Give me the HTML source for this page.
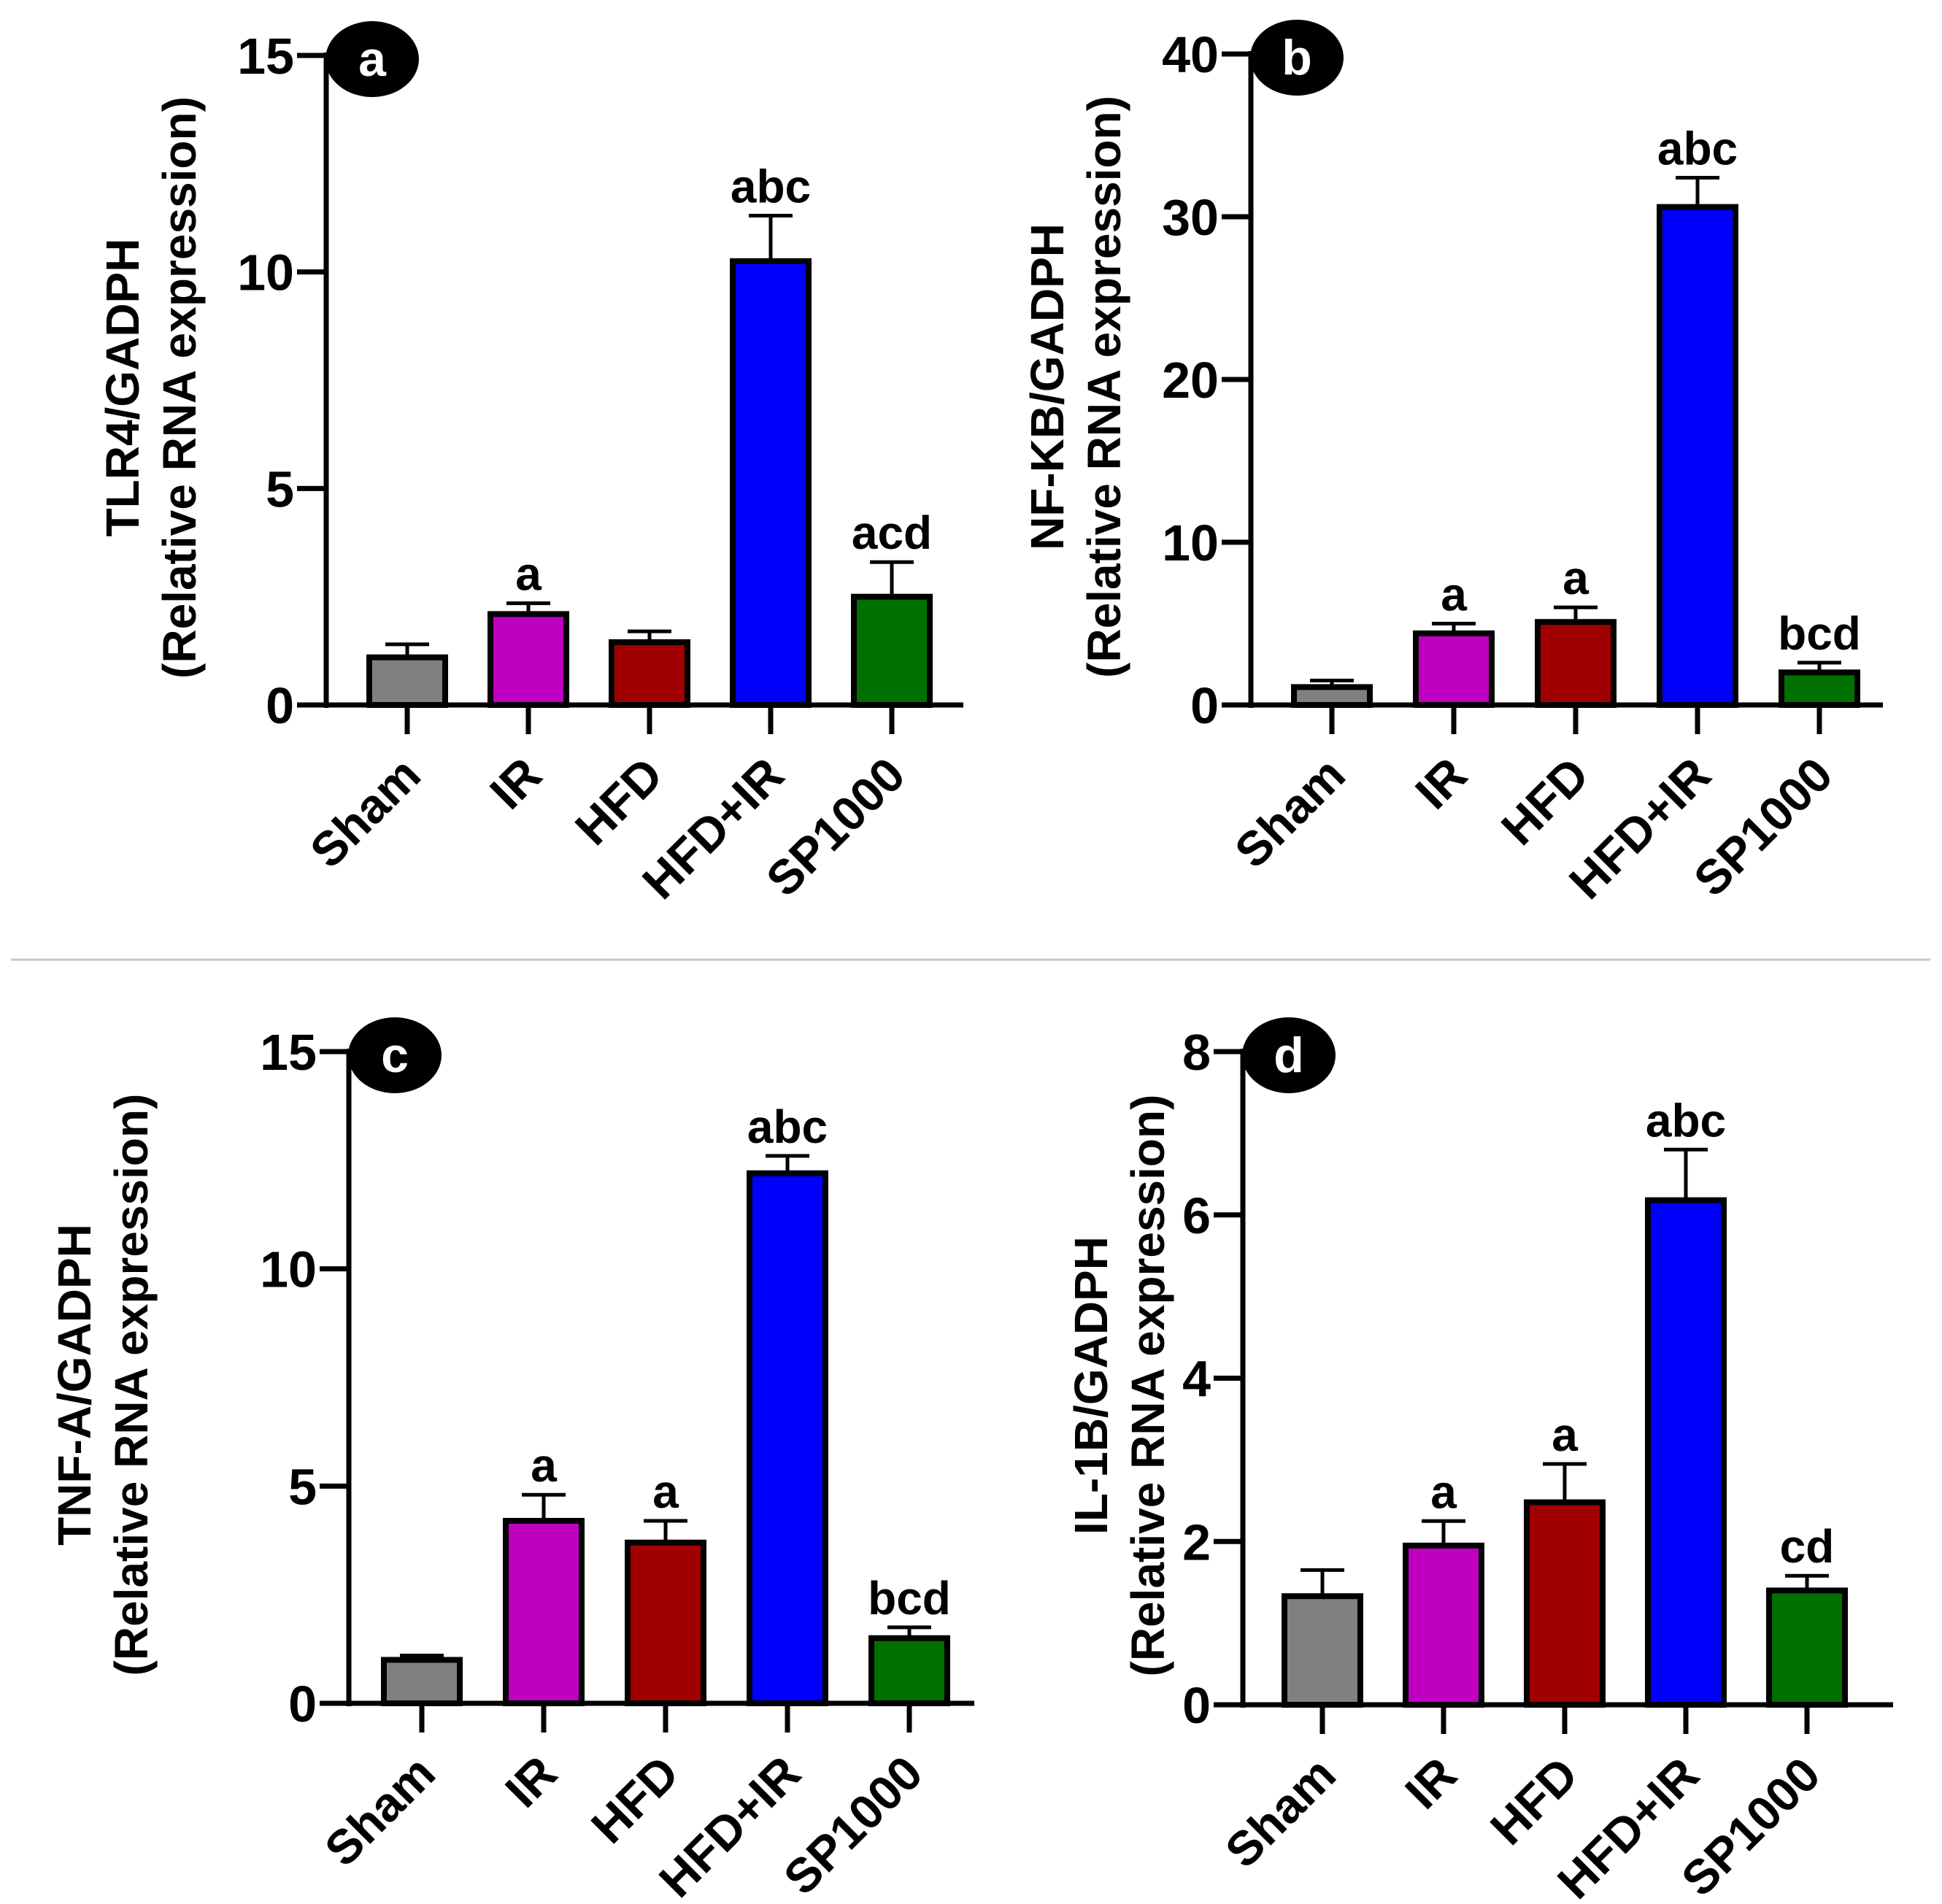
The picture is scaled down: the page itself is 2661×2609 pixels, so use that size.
<!DOCTYPE html>
<html><head><meta charset="utf-8"><style>
html,body{margin:0;padding:0;background:#fff}
svg{display:block}
text{font-family:"Liberation Sans",Arial,sans-serif;font-weight:bold}
</style></head><body>
<svg id="chart" width="2661" height="2609" viewBox="0 0 2661 2609" xmlns="http://www.w3.org/2000/svg">
<line x1="15" y1="1315" x2="2645" y2="1315" stroke="#c8c8c8" stroke-width="3"/>
</svg>
<script>
const categories = ["Sham","IR","HFD","HFD+IR","SP1000"];
const colors = ["#808080","#c000c0","#a00000","#0000ff","#007000"];
const valuesA = [1.1, 2.1, 1.45, 10.25, 2.5];
const errorsA = [0.3, 0.25, 0.25, 1.05, 0.8];
const lettersA = ["", "a", "", "abc", "acd"];
const ticksA = [0, 5, 10, 15];
const valuesB = [1.1, 4.4, 5.1, 30.6, 2.0];
const errorsB = [0.4, 0.6, 0.9, 1.8, 0.6];
const lettersB = ["", "a", "a", "abc", "bcd"];
const ticksB = [0, 10, 20, 30, 40];
const valuesC = [1.0, 4.2, 3.7, 12.2, 1.5];
const errorsC = [0.1, 0.6, 0.5, 0.4, 0.25];
const lettersC = ["", "a", "a", "abc", "bcd"];
const ticksC = [0, 5, 10, 15];
const valuesD = [1.33, 1.95, 2.48, 6.18, 1.4];
const errorsD = [0.32, 0.3, 0.47, 0.62, 0.18];
const lettersD = ["", "a", "a", "abc", "cd"];
const ticksD = [0, 2, 4, 6, 8];

const NS = "http://www.w3.org/2000/svg";
const svg = document.getElementById("chart");
function mk(tag, attrs, parent, txt){
  const e = document.createElementNS(NS, tag);
  for (const k in attrs) e.setAttribute(k, attrs[k]);
  if (txt !== undefined) e.textContent = txt;
  (parent || svg).appendChild(e);
  return e;
}
function panel(cfg){
  const g = mk("g", {});
  
  
  const ymax = cfg.ticks[cfg.ticks.length-1];
  const y = v => cfg.y0 - (v / ymax) * (cfg.y0 - cfg.yTop);
  const x = i => cfg.x0 + cfg.first + i * cfg.step;
  const bw = 104;
  cfg.values.forEach((v, i) => {
    const top = y(v + cfg.errors[i]);
    const el = mk("line", {x1: x(i), x2: x(i), y1: y(v), y2: top, stroke: "#000", "stroke-width": 5}, g);
    
    
    const cap = mk("line", {x1: x(i) - 30, x2: x(i) + 30, y1: top, y2: top, stroke: "#000", "stroke-width": 5}, g);
    
    
    const r = mk("rect", {x: x(i) - bw/2, y: y(v), width: bw, height: cfg.y0 - y(v), fill: colors[i], stroke: "#000", "stroke-width": 8}, g);
    
    
    if (cfg.letters[i]) {
      const t = mk("text", {x: x(i), y: top - 18, "text-anchor": "middle", "font-size": 64}, g, cfg.letters[i]);
      
      
    }
    const tk = mk("line", {x1: x(i), x2: x(i), y1: cfg.y0, y2: cfg.y0 + 40, stroke: "#000", "stroke-width": 7}, g);
    
    
    const lx = x(i) + 22, ly = cfg.y0 + 100;
    const lab = mk("text", {x: lx, y: ly, "text-anchor": "end", "font-size": 66, transform: `rotate(-45 ${lx} ${ly})`}, g, categories[i]);
    
    
  });
  const ya = mk("line", {x1: cfg.x0, x2: cfg.x0, y1: cfg.yTop - 4, y2: cfg.y0 + 4, stroke: "#000", "stroke-width": 7}, g);
  
  
  const xa = mk("line", {x1: cfg.x0 - 4, x2: cfg.xEnd, y1: cfg.y0, y2: cfg.y0, stroke: "#000", "stroke-width": 7}, g);
  
  
  cfg.ticks.forEach(t => {
    const tl = mk("line", {x1: cfg.x0 - 40, x2: cfg.x0, y1: y(t), y2: y(t), stroke: "#000", "stroke-width": 7}, g);
    
    
    const tt = mk("text", {x: cfg.x0 - 44, y: y(t) + 25, "text-anchor": "end", "font-size": 70}, g, String(t));
    
    
  });
  const cy = (cfg.y0 + cfg.yTop) / 2 + 10;
  const t1 = mk("text", {x: cfg.titleX, y: cy, "text-anchor": "middle", "font-size": 64, transform: `rotate(-90 ${cfg.titleX} ${cy})`}, g, cfg.title);
  
  
  const tx2 = cfg.titleX + 78;
  const t2 = mk("text", {x: tx2, y: cy, "text-anchor": "middle", "font-size": 64, transform: `rotate(-90 ${tx2} ${cy})`}, g, "(Relative RNA expression)");
  
  
  const el = mk("ellipse", {cx: cfg.x0 + 63, cy: cfg.yTop + 5, rx: 64, ry: 52, fill: "#000"}, g);
  
  
  const bt = mk("text", {x: cfg.x0 + 63, y: cfg.yTop + 28, "text-anchor": "middle", "font-size": 68, fill: "#fff"}, g, cfg.id);
  
  
}
panel({id:"a", x0:447, y0:966, yTop:76, xEnd:1320, first:111, step:166, ticks:ticksA, values:valuesA, errors:errorsA, letters:lettersA, title:"TLR4/GADPH", titleX:190});
panel({id:"b", x0:1714, y0:966, yTop:74, xEnd:2580, first:111, step:167, ticks:ticksB, values:valuesB, errors:errorsB, letters:lettersB, title:"NF-KB/GADPH", titleX:1457});
panel({id:"c", x0:478, y0:2334, yTop:1441, xEnd:1335, first:100, step:167, ticks:ticksC, values:valuesC, errors:errorsC, letters:lettersC, title:"TNF-A/GADPH", titleX:124});
panel({id:"d", x0:1703, y0:2336, yTop:1441, xEnd:2594, first:109, step:166, ticks:ticksD, values:valuesD, errors:errorsD, letters:lettersD, title:"IL-1B/GADPH", titleX:1517});
</script>
</body></html>
